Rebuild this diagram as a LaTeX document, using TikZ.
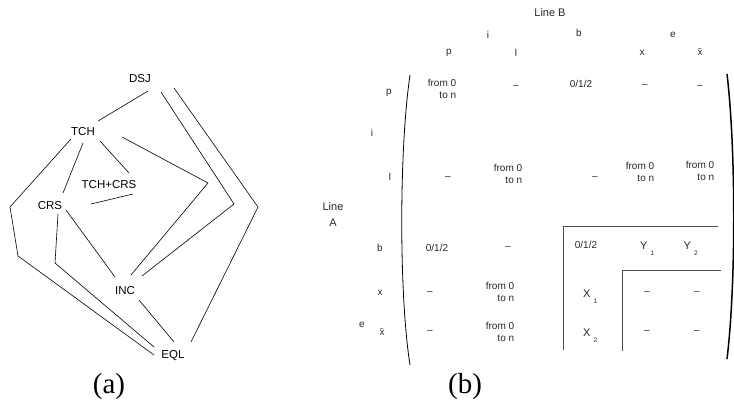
\documentclass[tikz,border=0pt]{standalone}
\usepackage{fontspec}
\setmainfont{Liberation Serif}
\newfontfamily\lblfont[Ligatures=TeX]{Liberation Sans}
\usetikzlibrary{calc}

\begin{document}
\begin{tikzpicture}[x=1pt,y=-1pt,
  lbl/.style={font=\lblfont\fontsize{11.5}{12}\selectfont, inner sep=0pt},
  ent/.style={font=\lblfont\fontsize{10}{12}\selectfont, inner sep=0pt, text=black!85},
  two/.style={ent, align=right},
  hdr/.style={font=\lblfont\fontsize{11}{16}\selectfont, inner sep=0pt, text=black!85, align=center},
  big/.style={font=\lblfont\fontsize{11}{12}\selectfont, inner sep=0pt, text=black!85, anchor=base west},
  lnk/.style={line width=0.6pt},
  rulebox/.style={line width=0.8pt, black!70},
  subcap/.style={font=\fontsize{29}{30}\selectfont, inner sep=0pt}
]
\useasboundingbox (0,0) rectangle (734,407);

% ---------------- (a) the lattice ----------------
\node[lbl] (DSJ) at (140,79)  {DSJ};
\node[lbl] (TCH) at (83,132)  {TCH};
\node[lbl] (TC)  at (109,185) {TCH+CRS};
\node[lbl] (CRS) at (50,206)  {CRS};
\node[lbl] (INC) at (125,291) {INC};
\node[lbl] (EQL) at (173,356) {EQL};

\coordinate (b1) at (234,204);
\coordinate (b2) at (258,207);
\coordinate (b3) at (10,207);
\coordinate (b4) at (18,256);
\coordinate (b5) at (208,183);
\coordinate (b6) at (55,263);
\coordinate (tcend) at ($(TC)+(-18,19)$);

\draw[lnk] ($(DSJ)+(8,12)$)  -- ($(TCH)+(15,-11)$);
\draw[lnk] ($(DSJ)+(21,13)$) -- (b1) -- ($(INC)+(17,-15)$);
\draw[lnk] ($(DSJ)+(34,9)$)  -- (b2) -- ($(EQL)+(18,-14)$);
\draw[lnk] ($(TCH)+(-12,7)$) -- (b3) -- (b4) -- ($(EQL)+(-19,-1)$);
\draw[lnk] ($(TCH)+(0,11)$)  -- ($(CRS)+(13,-13)$);
\draw[lnk] ($(TCH)+(17,9)$)  -- ($(TC)+(20,-12)$);
\draw[lnk] ($(TCH)+(39,5)$)  -- (b5) -- ($(INC)+(6,-16)$);
\draw[lnk] ($(TC)+(24,9)$)   -- (tcend);
\draw[lnk] ($(CRS)+(8,8)$)   -- (b6) -- ($(EQL)+(-19,-9)$);
\draw[lnk] ($(CRS)+(16,4)$)  -- ($(INC)+(-10,-14)$);
\draw[lnk] ($(INC)+(14,9)$)  -- ($(EQL)+(1,-14)$);

\node[subcap] (capa) at (109,387) {(a)};

% ---------------- (b) the matrix ----------------
\node[hdr] (lineB) at (550,13) {Line B};
\node[hdr] (lineA) at (333,215) {Line\\A};

% column headers
\node[ent] (ci) at (488,35) {i};
\node[ent] (cb) at (579,33) {b};
\node[ent] (ce) at (673,35) {e};
\node[ent] (cp) at (449,53) {p};
\node[ent] (cl) at (516,53) {l};
\node[ent] (cx) at (642,53) {x};
\node[ent] (cxb) at (700,52) {\=x};

% row headers
\node[ent] (rp) at (389,93) {p};
\node[ent] (ri) at (372,133) {i};
\node[ent] (rl) at (390,177) {l};
\node[ent] (rb) at (380,248) {b};
\node[ent] (rx) at (380,293) {x};
\node[ent] (re) at (362,325) {e};
\node[ent] (rxb) at (382,332) {\=x};

% brackets
\draw[line width=0.8pt] (410,75) .. controls (399,150) and (399,295) .. (410,365);
\draw[line width=1.5pt] (727,74) .. controls (736,150) and (736,285) .. (727,359);

% row p
\node[two] (pp) at (442,89) {from 0\\to n};
\node[ent] (pl) at (516,87) {–};
\node[ent] (pb) at (581,84) {0/1/2};
\node[ent] (px) at (645,86) {–};
\node[ent] (pxb) at (700,87) {–};

% row l
\node[ent] (lp) at (448,178) {–};
\node[two] (ll) at (508,174) {from 0\\to n};
\node[ent] (lb) at (595,178) {–};
\node[two] (lx) at (640,172) {from 0\\to n};
\node[two] (lxb) at (700,171) {from 0\\to n};

% row b
\node[ent] (bp) at (437,248) {0/1/2};
\node[ent] (bl) at (508,248) {–};
\node[ent] (bb) at (586,245) {0/1/2};
\node[big] (bx) at (640,249) {Y\hspace{3pt}\raisebox{-6pt}{\fontsize{6.5}{7}\selectfont 1}};
\node[big] (bxb) at (683.5,249) {Y\hspace{3pt}\raisebox{-6pt}{\fontsize{6.5}{7}\selectfont 2}};

% row x
\node[ent] (xp) at (430,293) {–};
\node[two] (xl) at (500,292) {from 0\\to n};
\node[big] (xb) at (583,297) {X\hspace{3pt}\raisebox{-6pt}{\fontsize{6.5}{7}\selectfont 1}};
\node[ent] (xx) at (647,293) {–};
\node[ent] (xxb) at (697,293) {–};

% row x-bar
\node[ent] (yp) at (430,332) {–};
\node[two] (yl) at (500,332) {from 0\\to n};
\node[big] (yb) at (583,336) {X\hspace{3pt}\raisebox{-6pt}{\fontsize{6.5}{7}\selectfont 2}};
\node[ent] (yx) at (647,332) {–};
\node[ent] (yxb) at (697,332) {–};

% sub-blocks
\coordinate (k1) at (563,226);
\draw[rulebox] (563,350) -- (k1) -- (718,226);
\coordinate (k2) at (622,270);
\draw[rulebox] (622,351) -- (k2) -- (721,270);

\node[subcap] (capb) at (465,387) {(b)};
\end{tikzpicture}
\end{document}
